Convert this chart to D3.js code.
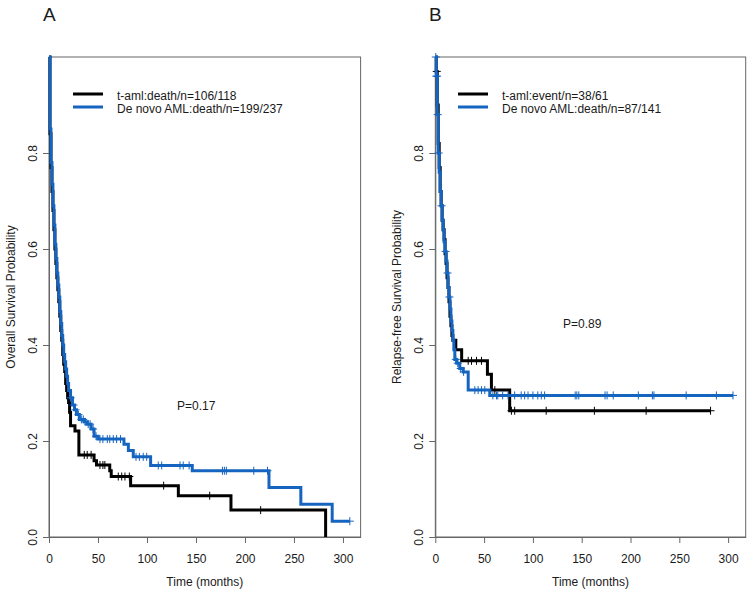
<!DOCTYPE html>
<html>
<head>
<meta charset="utf-8">
<script src="https://cdn.jsdelivr.net/npm/d3@7"></script>
<style>
  html, body { margin: 0; padding: 0; background: #fff; }
  svg { display: block; font-family: "Liberation Sans", Arial, sans-serif; }
</style>
</head>
<body>
<svg id="chart" width="750" height="593"></svg>
<script>
// ---------- Data ----------
const xTicks = [0, 50, 100, 150, 200, 250, 300];
const yTicks = [0, 0.2, 0.4, 0.6, 0.8];

// Panel A: Overall survival
const aTamlTime = [0,1,2,3,4,5,6,7,8,9,10,11,12,13,14,15,16,17,18,19,20,21,22,26.5,30.5,46,48.5,62,63.5,83.3,132,185.7,282.3];
const aTamlSurv = [1,0.84,0.77,0.72,0.68,0.64,0.60,0.57,0.54,0.515,0.49,0.46,0.43,0.41,0.38,0.36,0.345,0.32,0.305,0.29,0.28,0.26,0.232,0.221,0.171,0.159,0.15,0.138,0.126,0.107,0.086,0.056,0];
const aTamlCensor = [36,39,43,52,55,57,70.7,74.2,77.5,82,117,164,216];

const aDenovoTime = [0,1,2,3,4,5,6,7,8,9,10,11,12,13,14,15,16,17,18,19,20,22,24,26,28,31,36,39,43,46,50,76.5,81,86,103.7,146.2,224.5,257,289,307];
const aDenovoSurv = [1,0.85,0.78,0.735,0.69,0.65,0.61,0.58,0.55,0.525,0.50,0.47,0.445,0.42,0.40,0.38,0.365,0.35,0.335,0.32,0.305,0.29,0.275,0.265,0.255,0.245,0.24,0.235,0.225,0.21,0.204,0.193,0.18,0.167,0.149,0.138,0.103,0.068,0.033,0.033];
const aDenovoCensor = [22,25,27,30,33,35,37,40,42,45,48,52,55,59.5,62,65.6,69,73,88.8,92.2,96.2,99.7,111.5,115,133.7,137,143,177,179,181,209,223,307];

// Panel B: Relapse-free survival
const bTamlTime = [0,1,2,3,4,5,6,7,8,9,10,11,12,13,14,15,16,17,18,21,27,53.4,57.5,76.2,282];
const bTamlSurv = [1,0.97,0.9,0.82,0.77,0.72,0.69,0.66,0.64,0.62,0.59,0.57,0.54,0.52,0.49,0.46,0.44,0.42,0.41,0.39,0.367,0.339,0.306,0.263,0.263];
const bTamlCensor = [1.5,33.7,37.1,42.2,47.3,61,78,81.3,113.6,163,216,282];

const bDenovoTime = [0,1,2,3,4,5,6,7,8,9,10,11,12,13,14,15,16,17,18,19,20,22,25,28.6,33.7,55.8,305];
const bDenovoSurv = [1,0.96,0.88,0.80,0.76,0.72,0.69,0.66,0.64,0.615,0.595,0.575,0.55,0.52,0.5,0.475,0.45,0.43,0.41,0.39,0.37,0.362,0.351,0.344,0.306,0.295,0.295];
const bDenovoCensor = [0.5,1.2,1.6,2.5,3.5,6.5,10.5,12.5,14.5,21,23,26,29,40.5,43.9,47.3,50.7,59,62.7,64,69,74.5,81.3,88,91.5,95,100,105,108.6,112,143.3,145,147,173.9,176,182.3,208,222.4,224,257,288,305];

const panels = [
  { label: "A", ytitle: "Overall Survival Probability", p: "P=0.17",
    legend: ["t-aml:death/n=106/118", "De novo AML:death/n=199/237"],
    series: [
      { time: aTamlTime, surv: aTamlSurv, censor: aTamlCensor, color: "#000000" },
      { time: aDenovoTime, surv: aDenovoSurv, censor: aDenovoCensor, color: "#1565C0" }
    ] },
  { label: "B", ytitle: "Relapse-free Survival Probability", p: "P=0.89",
    legend: ["t-aml:event/n=38/61", "De novo AML:death/n=87/141"],
    series: [
      { time: bTamlTime, surv: bTamlSurv, censor: bTamlCensor, color: "#000000" },
      { time: bDenovoTime, surv: bDenovoSurv, censor: bDenovoCensor, color: "#1565C0" }
    ] }
];

// ---------- Layout ----------
const layout = [
  { left: 49, right: 360.6, titleX: 15, pX: 177, pY: 410, labelX: 43, legX: 73 },
  { left: 435.3, right: 745.7, titleX: 401, pX: 563, pY: 328, labelX: 429, legX: 458 }
];
const plotTop = 57, plotBottom = 537;
const xMax = 318;

const svg = d3.select("#chart");
const textColor = "#1a1a1a";

panels.forEach((P, i) => {
  const L = layout[i];
  const x = d3.scaleLinear().domain([0, xMax]).range([L.left, L.right]);
  const y = d3.scaleLinear().domain([0, 1]).range([plotBottom, plotTop]);
  const g = svg.append("g");

  // box
  g.append("rect")
    .attr("x", L.left).attr("y", plotTop)
    .attr("width", L.right - L.left).attr("height", plotBottom - plotTop)
    .attr("fill", "none").attr("stroke", "#666").attr("stroke-width", 1);

  // x axis
  const xa = g.append("g").attr("transform", `translate(0,${plotBottom})`)
    .call(d3.axisBottom(x).tickValues(xTicks).tickSize(6).tickSizeOuter(0));
  xa.select(".domain").attr("stroke", "#666");
  xa.selectAll(".tick line").attr("stroke", "#666");
  xa.selectAll(".tick text").attr("y", 17).attr("font-size", 12)
    .attr("fill", textColor).attr("font-family", "Liberation Sans, Arial, sans-serif");

  // y axis
  const ya = g.append("g").attr("transform", `translate(${L.left},0)`)
    .call(d3.axisLeft(y).tickValues(yTicks).tickFormat(d3.format(".1f")).tickSize(6).tickSizeOuter(0));
  ya.select(".domain").attr("stroke", "#666");
  ya.selectAll(".tick line").attr("stroke", "#666");
  ya.selectAll(".tick text")
    .attr("x", 0).attr("dy", null).attr("y", 0)
    .attr("text-anchor", "middle")
    .attr("transform", "translate(-12,0) rotate(-90)")
    .attr("font-size", 12).attr("fill", textColor)
    .attr("font-family", "Liberation Sans, Arial, sans-serif");

  // axis titles
  g.append("text")
    .attr("x", (L.left + L.right) / 2).attr("y", 586)
    .attr("text-anchor", "middle").attr("font-size", 12).attr("fill", textColor)
    .text("Time (months)");
  g.append("text")
    .attr("transform", `translate(${L.titleX},${(plotTop + plotBottom) / 2}) rotate(-90)`)
    .attr("text-anchor", "middle").attr("font-size", 12).attr("fill", textColor)
    .text(P.ytitle);

  // panel label
  g.append("text").attr("x", L.labelX).attr("y", 21)
    .attr("font-size", 19).attr("fill", textColor).text(P.label);

  // p-value
  g.append("text").attr("x", L.pX).attr("y", L.pY)
    .attr("font-size", 12).attr("fill", textColor).text(P.p);

  // curves
  const line = d3.line().x(d => x(d[0])).y(d => y(d[1])).curve(d3.curveStepAfter);
  P.series.forEach(s => {
    const pts = s.time.map((t, k) => [t, s.surv[k]]);
    g.append("path").datum(pts)
      .attr("d", line)
      .attr("fill", "none").attr("stroke", s.color)
      .attr("stroke-width", 3).attr("stroke-linejoin", "miter").attr("stroke-linecap", "butt");
    const survAt = t => {
      let v = s.surv[0];
      for (let k = 0; k < s.time.length; k++) { if (s.time[k] <= t) v = s.surv[k]; }
      return v;
    };
    g.append("g").selectAll("path.cens").data(s.censor).join("path")
      .attr("d", t => {
        const cx = x(t), cy = y(survAt(t));
        return `M${cx - 4},${cy}H${cx + 4}M${cx},${cy - 4}V${cy + 4}`;
      })
      .attr("stroke", s.color).attr("stroke-width", 1).attr("fill", "none");
  });

  // legend
  const legY = [94, 107];
  P.legend.forEach((txt, k) => {
    g.append("line")
      .attr("x1", L.legX).attr("x2", L.legX + 30)
      .attr("y1", legY[k]).attr("y2", legY[k])
      .attr("stroke", P.series[k].color).attr("stroke-width", 3);
    g.append("text").attr("x", L.legX + 44).attr("y", legY[k] + 6)
      .attr("font-size", 12).attr("fill", textColor).text(txt);
  });
});
</script>
</body>
</html>
